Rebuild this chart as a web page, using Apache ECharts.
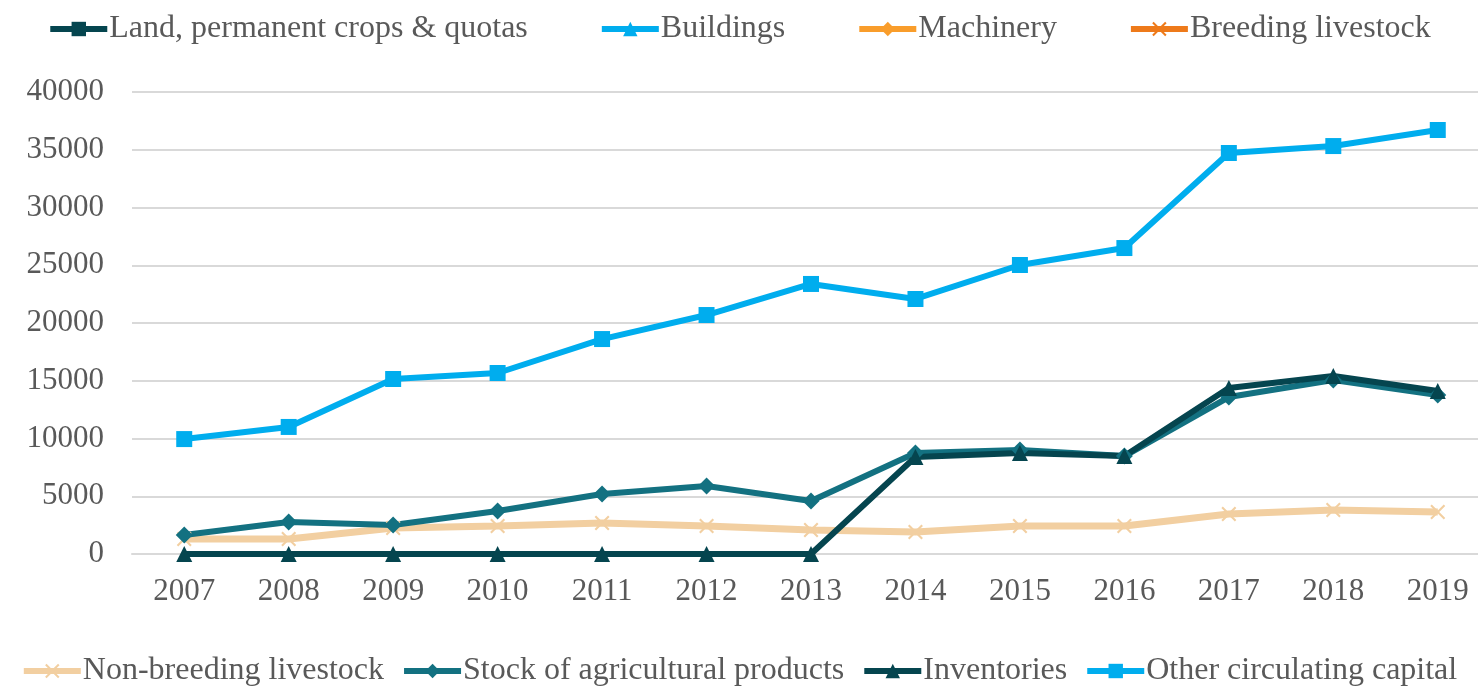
<!DOCTYPE html>
<html><head><meta charset="utf-8">
<script src="https://cdn.jsdelivr.net/npm/echarts@6/dist/echarts.min.js"></script>
<style>html,body{margin:0;padding:0;background:#fff}#c{width:1478px;height:686px}</style>
</head><body><div id="c"></div>
<script>
const years = ['2007','2008','2009','2010','2011','2012','2013','2014','2015','2016','2017','2018','2019'];
const land = [null,null,null,null,null,null,null,null,null,null,null,null,null];
const buildings = [null,null,null,null,null,null,null,null,null,null,null,null,null];
const machinery = [null,null,null,null,null,null,null,null,null,null,null,null,null];
const breedingLivestock = [null,null,null,null,null,null,null,null,null,null,null,null,null];
const nonBreedingLivestock = [1300,1300,2250,2420,2680,2420,2080,1900,2420,2420,3460,3810,3640];
const stockAgri = [1650,2770,2510,3720,5190,5890,4590,8740,9000,8480,13590,15060,13770];
const inventories = [0,0,0,0,0,0,0,8400,8740,8480,14370,15410,14110];
const otherCirculating = [9950,11000,15150,15670,18610,20690,23380,22080,25020,26490,34720,35320,36710];

const FONT = '"Liberation Serif","Times New Roman",serif';
const XSYM = 'path://M0,1 L1,0 L5,4 L9,0 L10,1 L6,5 L10,9 L9,10 L5,6 L1,10 L0,9 L4,5 Z';
function mk(name, data, color, symbol, width, size) {
  return {
    name, type: 'line', data, symbol, symbolSize: size, showSymbol: true,
    lineStyle: { color, width }, itemStyle: { color, borderWidth: 0 },
    emphasis: { disabled: true }, animation: false
  };
}
const chart = echarts.init(document.getElementById('c'), null, { renderer: 'canvas' });
const legendCommon = {
  itemWidth: 57, itemHeight: 18,
  lineStyle: { width: 6 },
  textStyle: { fontFamily: FONT, fontSize: 32, color: '#595959', padding: [0,0,0,-3] }
};
chart.setOption({
  animation: false,
  legend: [
    Object.assign({}, legendCommon, { top: 8, left: 'center', itemGap: 71,
      data: ['Land, permanent crops & quotas','Buildings','Machinery','Breeding livestock'] }),
    Object.assign({}, legendCommon, { top: 650, left: 'center', itemGap: 17,
      data: ['Non-breeding livestock','Stock of agricultural products','Inventories','Other circulating capital'] })
  ],
  grid: { left: 132, top: 92, right: -12, height: 462, containLabel: false, outerBoundsMode: 'none' },
  xAxis: {
    type: 'category', data: years, boundaryGap: true,
    axisLine: { lineStyle: { color: '#D9D9D9', width: 2 } },
    axisTick: { show: false },
    axisLabel: { fontFamily: FONT, fontSize: 31, color: '#595959', margin: 22 }
  },
  yAxis: {
    type: 'value', min: 0, max: 40000, interval: 5000,
    axisLine: { show: false }, axisTick: { show: false },
    splitLine: { lineStyle: { color: '#D9D9D9', width: 2 } },
    axisLabel: { fontFamily: FONT, fontSize: 31, color: '#595959', margin: 28, formatter: v => String(v) }
  },
  series: [
    mk('Land, permanent crops & quotas', land, '#05454F', 'rect', 6, 14),
    mk('Buildings', buildings, '#00ADEE', 'triangle', 6, 14),
    mk('Machinery', machinery, '#F99D2B', 'diamond', 6, 14),
    mk('Breeding livestock', breedingLivestock, '#EE7A1A', XSYM, 6, 14),
    mk('Non-breeding livestock', nonBreedingLivestock, '#F2CFA1', XSYM, 7, 15),
    mk('Stock of agricultural products', stockAgri, '#137181', 'diamond', 6, 17),
    mk('Inventories', inventories, '#05454F', 'triangle', 6, 16),
    mk('Other circulating capital', otherCirculating, '#00ADEE', 'rect', 6, 16)
  ]
});
</script></body></html>
